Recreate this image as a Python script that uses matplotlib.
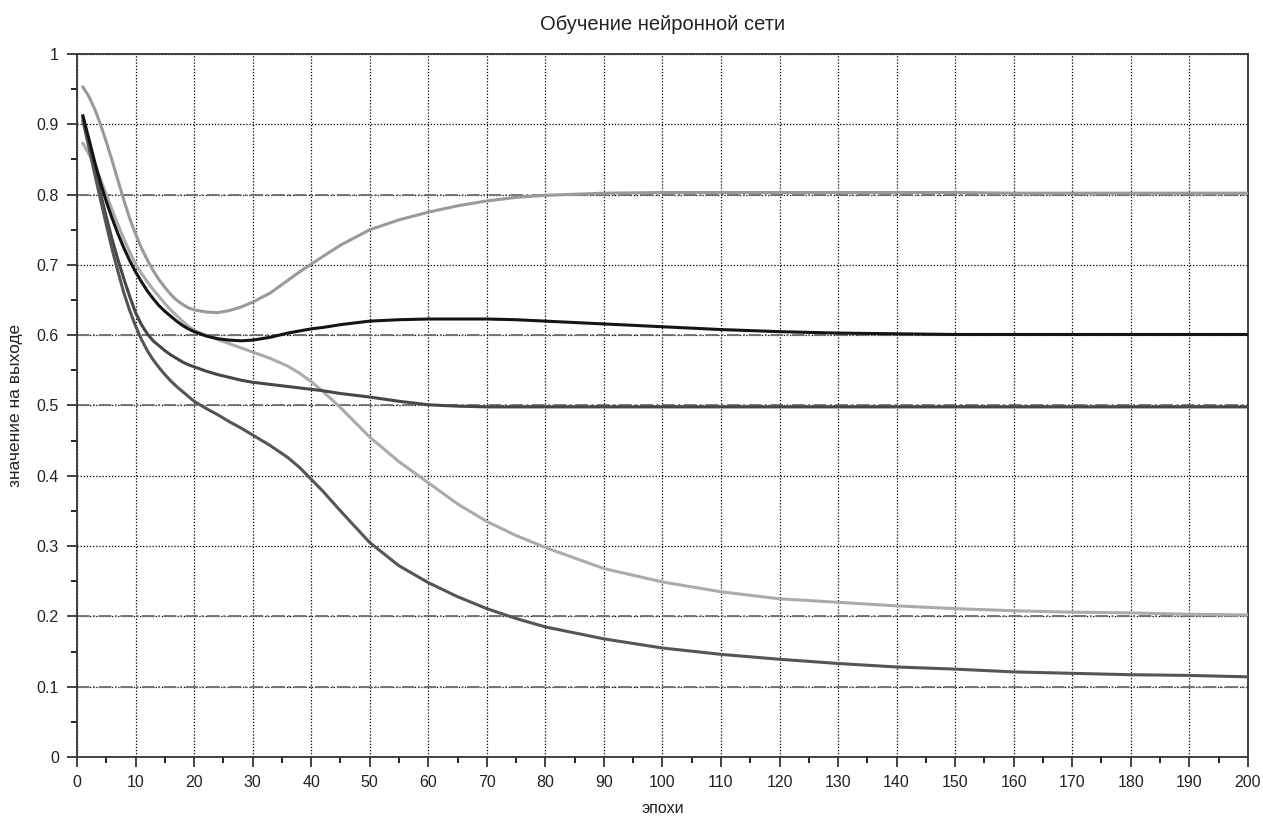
import matplotlib
matplotlib.use("Agg")
import matplotlib.pyplot as plt
from matplotlib.ticker import MultipleLocator, FormatStrFormatter

plt.rcParams["font.family"] = ["Liberation Sans", "DejaVu Sans"]

epochs = [1, 2, 3, 4, 5, 6, 7, 8, 9, 10, 11, 12, 13, 14, 15, 16, 17, 18, 19, 20,
          22, 24, 26, 28, 30, 33, 36, 38, 40, 42, 45, 50, 55, 60, 65, 70, 75, 80,
          90, 100, 110, 120, 130, 140, 150, 160, 170, 180, 190, 200]

out_08 = [0.953, 0.940, 0.922, 0.900, 0.875, 0.848, 0.820, 0.792, 0.766, 0.744,
          0.724, 0.707, 0.692, 0.679, 0.668, 0.658, 0.650, 0.644, 0.639, 0.636,
          0.633, 0.632, 0.635, 0.640, 0.647, 0.660, 0.678, 0.690, 0.701, 0.712,
          0.728, 0.750, 0.764, 0.775, 0.784, 0.791, 0.796, 0.799,
          0.802, 0.803, 0.803, 0.803, 0.803, 0.803, 0.803, 0.802, 0.802, 0.802,
          0.802, 0.802]

out_06 = [0.912, 0.880, 0.847, 0.817, 0.790, 0.766, 0.744, 0.724, 0.706, 0.690,
          0.676, 0.663, 0.652, 0.642, 0.634, 0.627, 0.620, 0.614, 0.609, 0.605,
          0.599, 0.595, 0.593, 0.592, 0.593, 0.597, 0.603, 0.606, 0.609, 0.611,
          0.615, 0.620, 0.622, 0.623, 0.623, 0.623, 0.622, 0.620,
          0.616, 0.612, 0.608, 0.605, 0.603, 0.602, 0.601, 0.601, 0.601, 0.601,
          0.601, 0.601]

out_05 = [0.910, 0.874, 0.838, 0.802, 0.768, 0.736, 0.707, 0.680, 0.655, 0.632,
          0.615, 0.602, 0.592, 0.585, 0.578, 0.572, 0.567, 0.562, 0.558, 0.555,
          0.549, 0.544, 0.540, 0.536, 0.533, 0.530, 0.527, 0.525, 0.523, 0.521,
          0.517, 0.512, 0.506, 0.501, 0.499, 0.498, 0.498, 0.498,
          0.498, 0.498, 0.498, 0.498, 0.498, 0.498, 0.498, 0.498, 0.498, 0.498,
          0.498, 0.498]

out_02 = [0.873, 0.858, 0.842, 0.822, 0.800, 0.778, 0.757, 0.737, 0.718, 0.701,
          0.688, 0.676, 0.665, 0.655, 0.645, 0.636, 0.628, 0.620, 0.613, 0.607,
          0.600, 0.594, 0.588, 0.582, 0.576, 0.567, 0.556, 0.546, 0.534, 0.520,
          0.497, 0.455, 0.420, 0.390, 0.360, 0.335, 0.315, 0.298,
          0.268, 0.249, 0.235, 0.225, 0.220, 0.215, 0.211, 0.208, 0.206, 0.205,
          0.203, 0.202]

out_01 = [0.905, 0.868, 0.830, 0.793, 0.757, 0.722, 0.690, 0.660, 0.635, 0.613,
          0.594, 0.578, 0.565, 0.554, 0.544, 0.535, 0.527, 0.520, 0.513, 0.506,
          0.496, 0.487, 0.477, 0.468, 0.458, 0.443, 0.426, 0.412, 0.395, 0.378,
          0.350, 0.305, 0.272, 0.248, 0.228, 0.211, 0.197, 0.185,
          0.168, 0.155, 0.146, 0.139, 0.133, 0.128, 0.125, 0.121, 0.119, 0.117,
          0.116, 0.114]

targets = [0.8, 0.6, 0.5, 0.2, 0.1]

series = [
    (out_08, "#9a9a9a"),
    (out_02, "#ababab"),
    (out_05, "#474747"),
    (out_01, "#555555"),
    (out_06, "#141414"),
]

fig = plt.figure(figsize=(12.63, 8.18), dpi=100)
ax = fig.add_axes([0.061, 0.0746, 0.927, 0.8594])

ax.grid(True, which="major", color="black", linestyle=(0, (1, 1.5)), linewidth=0.9)
ax.set_axisbelow(True)

for t in targets:
    ax.axhline(t, color="#6e6e6e", linestyle=(0, (7, 2, 1, 2)), linewidth=1.3, zorder=1.5)

for vals, col in series:
    ax.plot(epochs, vals, color=col, linewidth=2.2, zorder=3)

ax.set_xlim(0, 200)
ax.set_ylim(0, 1)
ax.xaxis.set_major_locator(MultipleLocator(10))
ax.xaxis.set_minor_locator(MultipleLocator(5))
ax.yaxis.set_major_locator(MultipleLocator(0.1))
ax.yaxis.set_minor_locator(MultipleLocator(0.05))
ax.yaxis.set_major_formatter(FormatStrFormatter("%g"))

ax.tick_params(which="major", direction="out", length=7, width=1.2,
               labelsize=11.5, colors="#222222", pad=6)
ax.tick_params(which="minor", direction="out", length=4, width=1.2)
for sp in ax.spines.values():
    sp.set_color("#333333")
    sp.set_linewidth(1.3)

ax.set_title("Обучение нейронной сети", fontsize=14.5, color="#222222", pad=17)
ax.set_xlabel("эпохи", fontsize=11.5, color="#222222", labelpad=8)
ax.set_ylabel("значение на выходе", fontsize=12.5, color="#222222", labelpad=10)

fig.savefig("out.png", dpi=100)
